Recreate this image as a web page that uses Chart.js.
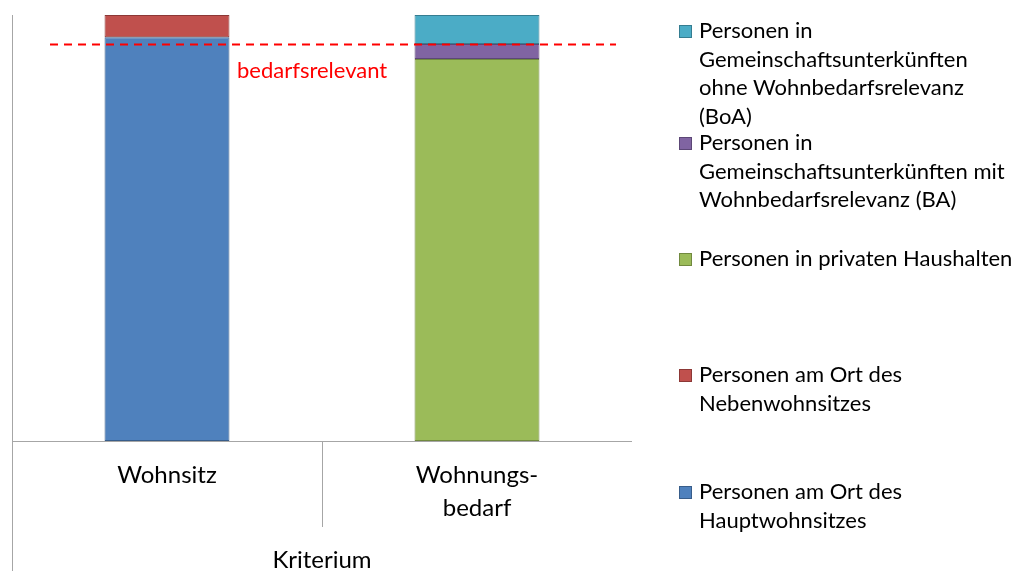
<!DOCTYPE html>
<html>
<head>
<meta charset="utf-8">
<script src="https://cdn.jsdelivr.net/npm/chart.js@4"></script>
<style>
  body { margin: 0; background: #fff; }
  #wrap { position: relative; width: 1018px; height: 571px; }
  #legend { position: absolute; left: 0; top: 0; font-family: Lato, "Open Sans", sans-serif; font-size: 22px; color: #000; }
  .item { position: absolute; left: 699px; width: 330px; line-height: 28.5px; white-space: nowrap; }
  .box { position: absolute; left: -20px; top: 9px; width: 11px; height: 11px; border: 1px solid; }
</style>
</head>
<body>
<div id="wrap">
  <canvas id="myChart" width="1018" height="571"></canvas>
  <div id="legend"></div>
</div>
<script>
document.addEventListener("DOMContentLoaded", () => {
  // categories and values (share of people)
  const categories = ["Wohnsitz", ["Wohnungs-", "bedarf"]];
  const hauptwohnsitz = [94.8, null];
  const nebenwohnsitz = [5.2, null];
  const privateHaushalte = [null, 89.7];
  const gemeinschaftBA = [null, 3.5];
  const gemeinschaftBoA = [null, 6.8];
  const bedarfsgrenze = 93.2;
  const axisTitle = "Kriterium";

  const seriesNames = [
    "Personen am Ort des Hauptwohnsitzes",
    "Personen am Ort des Nebenwohnsitzes",
    "Personen in privaten Haushalten",
    "Personen in Gemeinschaftsunterkünften mit Wohnbedarfsrelevanz (BA)",
    "Personen in Gemeinschaftsunterkünften ohne Wohnbedarfsrelevanz (BoA)",
  ];
  const legendLines = [
    ["Personen am Ort des", "Hauptwohnsitzes"],
    ["Personen am Ort des", "Nebenwohnsitzes"],
    ["Personen in privaten Haushalten"],
    ["Personen in", "Gemeinschaftsunterkünften mit", "Wohnbedarfsrelevanz (BA)"],
    ["Personen in", "Gemeinschaftsunterkünften", "ohne Wohnbedarfsrelevanz", "(BoA)"],
  ];
  const fills = ["#4F81BD", "#C0504D", "#9BBB59", "#8064A2", "#4BACC6"];
  const borders = ["#385D8A", "#8C3836", "#71893F", "#5C4776", "#357D91"];
  const values = [hauptwohnsitz, nebenwohnsitz, privateHaushalte, gemeinschaftBA, gemeinschaftBoA];

  const font = "Lato, 'Open Sans', sans-serif";

  // axis frame + dashed threshold line
  const framePlugin = {
    id: "frame",
    afterDraw(chart) {
      const { ctx, chartArea, scales: { x, y } } = chart;
      const base = y.getPixelForValue(0);
      const mid = (x.getPixelForValue(0) + x.getPixelForValue(1)) / 2;
      ctx.save();
      ctx.strokeStyle = "#a6a6a6";
      ctx.lineWidth = 1;
      ctx.beginPath();
      ctx.moveTo(chartArea.left + 0.5, chartArea.top);
      ctx.lineTo(chartArea.left + 0.5, chart.height);
      ctx.moveTo(chartArea.left, Math.round(base) + 0.5);
      ctx.lineTo(chartArea.right, Math.round(base) + 0.5);
      ctx.moveTo(Math.round(mid) + 0.5, base);
      ctx.lineTo(Math.round(mid) + 0.5, base + 86);
      ctx.stroke();

      const ty = Math.round(y.getPixelForValue(bedarfsgrenze)) + 0.5;
      ctx.strokeStyle = "#ff0000";
      ctx.lineWidth = 2;
      ctx.setLineDash([8, 6]);
      ctx.beginPath();
      ctx.moveTo(chartArea.left + 38, ty);
      ctx.lineTo(chartArea.right - 16, ty);
      ctx.stroke();
      ctx.setLineDash([]);
      ctx.fillStyle = "#ff0000";
      ctx.font = "22px " + font;
      ctx.textBaseline = "middle";
      ctx.fillText("bedarfsrelevant", 237, ty + 26);
      ctx.restore();
    },
  };

  const ctx = document.getElementById("myChart").getContext("2d");
  new Chart(ctx, {
    type: "bar",
    data: {
      labels: categories,
      datasets: values.map((v, i) => ({
        label: seriesNames[i],
        data: v,
        backgroundColor: fills[i],
        borderColor: borders[i],
        borderWidth: 1,
        borderSkipped: false,
        barPercentage: 0.403,
        categoryPercentage: 1,
        skipNull: true,
      })),
    },
    options: {
      responsive: false,
      animation: false,
      layout: { padding: { left: 12, right: 386, top: 15, bottom: 0 } },
      plugins: {
        legend: { display: false },
        tooltip: { enabled: false },
      },
      scales: {
        x: {
          stacked: true,
          grid: { display: false, drawTicks: false },
          border: { display: false },
          ticks: {
            color: "#000",
            font: { family: font, size: 24, lineHeight: 1.375 },
            padding: 18,
            maxRotation: 0,
          },
          title: {
            display: true,
            text: axisTitle,
            color: "#000",
            font: { family: font, size: 24, lineHeight: 0.9 },
            padding: { top: 0, bottom: 0 },
          },
          afterFit(scale) { scale.height = 130; },
        },
        y: {
          stacked: true,
          display: false,
          min: 0,
          max: 100,
        },
      },
    },
    plugins: [framePlugin],
  });

  // legend (reverse order, like the original)
  const tops = [477, 360, 244, 128, 16];
  const legend = document.getElementById("legend");
  legendLines.forEach((lines, i) => {
    const item = document.createElement("div");
    item.className = "item";
    item.style.top = tops[i] + "px";
    const box = document.createElement("span");
    box.className = "box";
    box.style.background = fills[i];
    box.style.borderColor = borders[i];
    item.appendChild(box);
    item.appendChild(document.createTextNode(""));
    item.innerHTML += lines.join("<br>");
    legend.appendChild(item);
  });
});
</script>
</body>
</html>
